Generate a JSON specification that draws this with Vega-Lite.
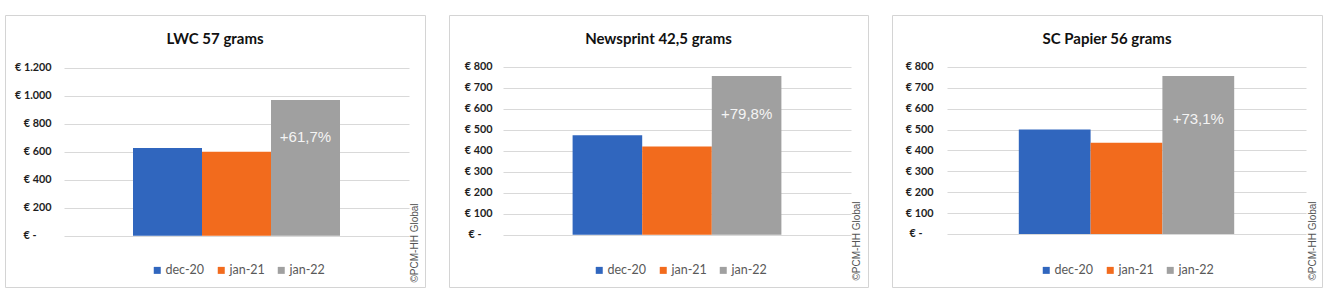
{
  "$schema": "https://vega.github.io/schema/vega-lite/v6.json",
  "padding": {"left": 4, "top": 14, "right": 0, "bottom": 0},
  "background": "white",
  "spacing": 22,
  "config": {
    "view": {"stroke": "#D4D4D4", "strokeWidth": 1},
    "title": {"font": "Lato", "fontSize": 15, "fontWeight": "bold", "color": "#111111", "anchor": "middle", "frame": "group"},
    "axis": {"labelFont": "Lato", "labelFontWeight": "bold", "labelFontSize": 10.8, "labelColor": "#1E1E1E"},
    "legend": {"labelFont": "Lato", "labelFontSize": 12.5, "labelColor": "#595959", "padding": 0}
  },
  "data": {
    "values": [
      {"chart": "LWC", "period": "dec-20", "price": 628, "label": null},
      {"chart": "LWC", "period": "jan-21", "price": 600, "label": null},
      {"chart": "LWC", "period": "jan-22", "price": 970, "label": "+61,7%"},
      {"chart": "News", "period": "dec-20", "price": 473, "label": null},
      {"chart": "News", "period": "jan-21", "price": 420, "label": null},
      {"chart": "News", "period": "jan-22", "price": 755, "label": "+79,8%"},
      {"chart": "SC", "period": "dec-20", "price": 500, "label": null},
      {"chart": "SC", "period": "jan-21", "price": 437, "label": null},
      {"chart": "SC", "period": "jan-22", "price": 757, "label": "+73,1%"}
    ]
  },
  "resolve": {"legend": {"color": "independent"}},
  "hconcat": [
    {
      "width": 420, "height": 272,
      "title": {"text": "LWC 57 grams", "offset": -32},
      "transform": [{"filter": "datum.chart == 'LWC'"}],
      "resolve": {"axis": {"y": "independent"}},
      "layer": [
        {
          "mark": {"type": "bar"},
          "encoding": {
            "x": {"field": "period", "type": "nominal", "axis": null, "scale": {"range": [59, 404], "paddingInner": 0, "paddingOuter": 1.1}},
            "y": {"field": "price", "type": "quantitative", "scale": {"domain": [-367, 1579], "nice": false, "zero": false},
              "axis": {"orient": "left", "offset": -52, "values": [0, 200, 400, 600, 800, 1000, 1200], "title": null, "domain": false, "ticks": false, "tickSize": 0, "labelPadding": {"condition": {"test": "datum.value == 0", "value": 21}, "value": 6}, "grid": true, "gridColor": "#D9D9D9", "labelExpr": "datum.value == 0 ? '€ -' : '€ ' + replace(format(datum.value, ','), ',', '.')"}},
            "color": {"field": "period", "type": "nominal", "scale": {"domain": ["dec-20", "jan-21", "jan-22"], "range": ["#3066BE", "#F26B1D", "#A0A0A0"]},
              "legend": {"orient": "none", "legendX": 146, "legendY": 249, "direction": "horizontal", "title": null, "symbolType": "square", "symbolSize": 49, "symbolStrokeWidth": 0, "labelOffset": 2, "columnPadding": 10}}
          }
        },
        {
          "transform": [{"filter": "datum.label != null"}],
          "mark": {"type": "text", "font": "Liberation Sans", "fontSize": 15, "color": "#F4F4F4", "baseline": "middle", "dy": 37},
          "encoding": {
            "x": {"field": "period", "type": "nominal", "axis": null},
            "y": {"field": "price", "type": "quantitative",
              "axis": {"orient": "right", "labels": false, "ticks": false, "domain": false, "grid": false, "title": "©PCM-HH Global", "titleAngle": 270, "titleAlign": "left", "titleBaseline": "middle", "titleX": -11, "titleY": 267, "titleFont": "Liberation Sans", "titleFontSize": 10, "titleFontWeight": "normal", "titleColor": "#555555"}},
            "text": {"field": "label"}
          }
        }
      ]
    },
    {
      "width": 419, "height": 272,
      "title": {"text": "Newsprint 42,5 grams", "offset": -32},
      "transform": [{"filter": "datum.chart == 'News'"}],
      "resolve": {"axis": {"y": "independent"}},
      "layer": [
        {
          "mark": {"type": "bar"},
          "encoding": {
            "x": {"field": "period", "type": "nominal", "axis": null, "scale": {"range": [54, 402], "paddingInner": 0, "paddingOuter": 1.1}},
            "y": {"field": "price", "type": "quantitative", "scale": {"domain": [-249, 1046], "nice": false, "zero": false},
              "axis": {"orient": "left", "offset": -49, "values": [0, 100, 200, 300, 400, 500, 600, 700, 800], "title": null, "domain": false, "ticks": false, "tickSize": 0, "labelPadding": {"condition": {"test": "datum.value == 0", "value": 17}, "value": 6}, "grid": true, "gridColor": "#D9D9D9", "labelExpr": "datum.value == 0 ? '€ -' : '€ ' + replace(format(datum.value, ','), ',', '.')"}},
            "color": {"field": "period", "type": "nominal", "scale": {"domain": ["dec-20", "jan-21", "jan-22"], "range": ["#3066BE", "#F26B1D", "#A0A0A0"]},
              "legend": {"orient": "none", "legendX": 144, "legendY": 249, "direction": "horizontal", "title": null, "symbolType": "square", "symbolSize": 49, "symbolStrokeWidth": 0, "labelOffset": 2, "columnPadding": 10}}
          }
        },
        {
          "transform": [{"filter": "datum.label != null"}],
          "mark": {"type": "text", "font": "Liberation Sans", "fontSize": 15, "color": "#F4F4F4", "baseline": "middle", "dy": 38},
          "encoding": {
            "x": {"field": "period", "type": "nominal", "axis": null},
            "y": {"field": "price", "type": "quantitative",
              "axis": {"orient": "right", "labels": false, "ticks": false, "domain": false, "grid": false, "title": "©PCM-HH Global", "titleAngle": 270, "titleAlign": "left", "titleBaseline": "middle", "titleX": -12, "titleY": 265, "titleFont": "Liberation Sans", "titleFontSize": 10, "titleFontWeight": "normal", "titleColor": "#555555"}},
            "text": {"field": "label"}
          }
        }
      ]
    },
    {
      "width": 430, "height": 272,
      "title": {"text": "SC Papier 56 grams", "offset": -32},
      "transform": [{"filter": "datum.chart == 'SC'"}],
      "resolve": {"axis": {"y": "independent"}},
      "layer": [
        {
          "mark": {"type": "bar"},
          "encoding": {
            "x": {"field": "period", "type": "nominal", "axis": null, "scale": {"range": [55, 414], "paddingInner": 0, "paddingOuter": 1.09}},
            "y": {"field": "price", "type": "quantitative", "scale": {"domain": [-254, 1049], "nice": false, "zero": false},
              "axis": {"orient": "left", "offset": -47, "values": [0, 100, 200, 300, 400, 500, 600, 700, 800], "title": null, "domain": false, "ticks": false, "tickSize": 0, "labelPadding": {"condition": {"test": "datum.value == 0", "value": 17}, "value": 6}, "grid": true, "gridColor": "#D9D9D9", "labelExpr": "datum.value == 0 ? '€ -' : '€ ' + replace(format(datum.value, ','), ',', '.')"}},
            "color": {"field": "period", "type": "nominal", "scale": {"domain": ["dec-20", "jan-21", "jan-22"], "range": ["#3066BE", "#F26B1D", "#A0A0A0"]},
              "legend": {"orient": "none", "legendX": 148, "legendY": 249, "direction": "horizontal", "title": null, "symbolType": "square", "symbolSize": 49, "symbolStrokeWidth": 0, "labelOffset": 2, "columnPadding": 10}}
          }
        },
        {
          "transform": [{"filter": "datum.label != null"}],
          "mark": {"type": "text", "font": "Liberation Sans", "fontSize": 15, "color": "#F4F4F4", "baseline": "middle", "dy": 43},
          "encoding": {
            "x": {"field": "period", "type": "nominal", "axis": null},
            "y": {"field": "price", "type": "quantitative",
              "axis": {"orient": "right", "labels": false, "ticks": false, "domain": false, "grid": false, "title": "©PCM-HH Global", "titleAngle": 270, "titleAlign": "left", "titleBaseline": "middle", "titleX": -9.5, "titleY": 265, "titleFont": "Liberation Sans", "titleFontSize": 10, "titleFontWeight": "normal", "titleColor": "#555555"}},
            "text": {"field": "label"}
          }
        }
      ]
    }
  ]
}
